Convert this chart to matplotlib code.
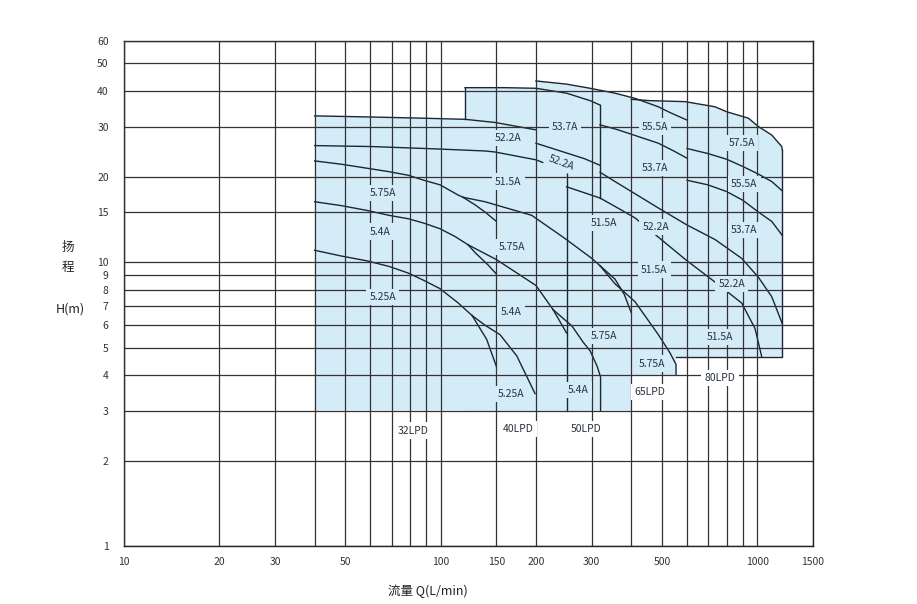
import matplotlib.pyplot as plt
from matplotlib.ticker import NullLocator, FixedLocator, FixedFormatter

plt.rcParams['font.family'] = ['Noto Sans CJK SC', 'DejaVu Sans']

FILL = '#d4ecf8'
LINE = '#1c2633'
GRID = '#333333'

# axis grid / tick values
x_grid = [10, 20, 30, 40, 50, 60, 70, 80, 90, 100, 150, 200, 300, 400, 500,
          600, 700, 800, 900, 1000, 1500]
x_labeled = [10, 20, 30, 50, 100, 150, 200, 300, 500, 1000, 1500]
y_grid = [1, 2, 3, 4, 5, 6, 7, 8, 9, 10, 15, 20, 30, 40, 50, 60]

# top boundaries of the operating ranges (Q L/min, H m)
top_40_q = [119.4, 160, 200, 250, 296.5, 318.8]
top_40_h = [41.1, 41.1, 40.9, 39.3, 37.0, 35.7]
top_50_q = [200, 250, 296.5, 355.5, 411, 487, 530, 600]
top_50_h = [43.4, 42.3, 40.9, 39.3, 37.7, 35.2, 33.6, 31.6]
top_80_q = [400, 458.6, 591.5, 735.6, 801, 937, 1008, 1111, 1195, 1200]
top_80_h = [37.4, 37.0, 36.7, 35.2, 33.8, 32.1, 30.0, 28.0, 25.5, 24.8]

# performance curves
curve_a_q = [40, 60.6, 87.2, 119.4, 148.5, 200]
curve_a_h = [32.7, 32.4, 32.1, 31.8, 31.0, 29.2]
curve_b_q = [40, 60.6, 98.3, 138.1, 148.5, 200, 250]
curve_b_h = [25.7, 25.5, 25.0, 24.6, 24.4, 22.9, 20.8]
curve_r_q = [200, 250, 285, 318.8]
curve_r_h = [26.2, 24.2, 23.1, 21.9]
curve_p_q = [318.8, 360, 411, 487, 545, 600]
curve_p_h = [30.4, 29.3, 27.9, 26.2, 24.6, 23.2]
curve_s_q = [318.8, 355.5, 487, 600, 735.6, 893, 1008, 1111, 1200]
curve_s_h = [20.7, 19.2, 15.5, 13.5, 12.0, 10.3, 8.84, 7.55, 6.06]
curve_t_q = [250, 318.8, 370, 411, 480, 600, 735.6, 893, 984, 1033]
curve_t_h = [18.4, 16.8, 15.3, 14.3, 12.4, 10.1, 8.5, 7.17, 5.83, 4.64]
c80_2_q = [600, 698, 801, 900, 1008, 1111, 1200]
c80_2_h = [25.1, 24.1, 23.0, 21.7, 20.4, 19.2, 17.8]
c80_3_q = [600, 698, 801, 900, 1008, 1111, 1200]
c80_3_h = [19.4, 18.7, 17.7, 16.5, 15.0, 13.9, 12.4]

c_q = [40, 48.5, 58.4, 68.7, 79.1, 88.6, 99.5, 113.7, 117.7]
c_h = [22.7, 22.1, 21.4, 20.8, 20.2, 19.4, 18.7, 17.2, 16.9]
c1_q = [117.7, 128.4, 138.1, 150]
c1_h = [16.9, 15.9, 15.0, 13.9]
c2_q = [117.7, 138.1, 194, 247, 300.2, 318.8]
c2_h = [16.9, 16.3, 14.6, 12.1, 10.3, 9.7]
c2a_q = [318.8, 355.5, 380, 400]
c2a_h = [9.7, 8.7, 7.7, 6.63]
c2b_q = [318.8, 355.5, 411, 487, 530, 554, 554]
c2b_h = [9.7, 8.38, 7.25, 5.55, 4.79, 4.36, 4.0]

d_q = [40, 48.5, 58.4, 68.7, 79.1, 88.6, 99.5, 111, 122.1]
d_h = [16.3, 15.8, 15.2, 14.6, 14.2, 13.7, 13.1, 12.3, 11.5]
d1_q = [122.1, 128.4, 141, 150]
d1_h = [11.5, 10.8, 9.78, 9.07]
d2_q = [122.1, 150, 200, 226.5]
d2_h = [11.5, 10.2, 8.27, 6.8]
d2a_q = [226.5, 250]
d2a_h = [6.8, 5.62]
d2b_q = [226.5, 260, 282.3, 296.5, 312, 320, 320]
d2b_h = [6.8, 5.95, 5.21, 4.87, 4.3, 3.94, 3.0]

e_q = [40, 48.5, 58.4, 68.7, 79.1, 88.6, 99.5, 113.7, 125.7]
e_h = [11.0, 10.5, 10.1, 9.65, 9.14, 8.61, 8.06, 7.17, 6.48]
e1_q = [125.7, 139.8, 150]
e1_h = [6.48, 5.34, 4.29]
e2_q = [125.7, 138.1, 154, 174, 198.7]
e2_h = [6.48, 5.99, 5.55, 4.67, 3.44]

# straight edges of the ranges
edges = [
    ([119.4, 119.4], [31.8, 41.1]),
    ([318.8, 318.8], [35.7, 16.8]),
    ([250, 250], [20.8, 3]),
    ([1200, 1200, 554], [24.8, 4.64, 4.64]),
]

# labels: text, Q, H, rotation, inside shaded area
labels = [
    ('5.75A', 65.6, 17.5, 0, True), ('5.4A', 64.4, 12.8, 0, True),
    ('5.25A', 65.6, 7.55, 0, True), ('32LPD', 81.7, 2.55, 0, False),
    ('52.2A', 163.6, 27.3, 0, True), ('51.5A', 163.6, 19.2, 0, True),
    ('5.75A', 167.7, 11.3, 0, True), ('5.4A', 166.9, 6.67, 0, True),
    ('5.25A', 166.9, 3.42, 0, True), ('40LPD', 176, 2.59, 0, False),
    ('53.7A', 247, 30.0, 0, True), ('52.2A', 240, 22.4, -20, True),
    ('51.5A', 328, 13.7, 0, True), ('5.75A', 328, 5.48, 0, True),
    ('5.4A', 272, 3.54, 0, True), ('50LPD', 288, 2.59, 0, False),
    ('55.5A', 475, 30.0, 0, True), ('53.7A', 475, 21.4, 0, True),
    ('52.2A', 478, 13.3, 0, True), ('51.5A', 473, 9.41, 0, True),
    ('5.75A', 466, 4.39, 0, True), ('65LPD', 458.6, 3.49, 0, False),
    ('57.5A', 895, 26.3, 0, True), ('55.5A', 910, 18.8, 0, True),
    ('53.7A', 910, 13.0, 0, True), ('52.2A', 831, 8.38, 0, True),
    ('51.5A', 763, 5.44, 0, True), ('80LPD', 763, 3.91, 0, False),
]

fig = plt.figure(figsize=(9.17, 6.04), dpi=100)
ax = fig.add_axes([0.1352, 0.0960, 0.7514, 0.8361])
ax.set_xscale('log')
ax.set_yscale('log')
ax.set_xlim(10, 1500)
ax.set_ylim(1, 60)

# shaded ranges
zones = [
    ([40] + curve_a_q + [200], [3] + curve_a_h + [3]),
    ([119.4] + top_40_q + [318.8], [3] + top_40_h + [3]),
    ([200] + top_50_q + [600, 554, 554, 400, 400],
     [3] + top_50_h + [4.64, 4.64, 4.0, 4.0, 3]),
    ([400] + top_80_q + [1200], [4.64] + top_80_h + [4.64]),
]
for zq, zh in zones:
    ax.fill(zq, zh, color=FILL, lw=0, zorder=0)

curves = [
    (top_40_q, top_40_h), (top_50_q, top_50_h), (top_80_q, top_80_h),
    (curve_a_q, curve_a_h), (curve_b_q, curve_b_h), (curve_r_q, curve_r_h),
    (curve_p_q, curve_p_h), (curve_s_q, curve_s_h), (curve_t_q, curve_t_h),
    (c80_2_q, c80_2_h), (c80_3_q, c80_3_h),
    (c_q, c_h), (c1_q, c1_h), (c2_q, c2_h), (c2a_q, c2a_h), (c2b_q, c2b_h),
    (d_q, d_h), (d1_q, d1_h), (d2_q, d2_h), (d2a_q, d2a_h), (d2b_q, d2b_h),
    (e_q, e_h), (e1_q, e1_h), (e2_q, e2_h),
] + edges
for cq, ch in curves:
    ax.plot(cq, ch, color=LINE, lw=1.0, zorder=2, solid_joinstyle='round')

for txt, q, h, rot, inside in labels:
    ax.text(q, h, txt, fontsize=7.5, color='#2a3340', ha='center', va='center',
            rotation=rot, rotation_mode='anchor', zorder=4,
            bbox=dict(boxstyle='square,pad=0.3', fc=FILL if inside else 'white', ec='none'))

# grid and ticks
ax.xaxis.set_major_locator(FixedLocator(x_grid))
ax.xaxis.set_major_formatter(FixedFormatter([str(v) if v in x_labeled else '' for v in x_grid]))
ax.yaxis.set_major_locator(FixedLocator(y_grid))
ax.yaxis.set_major_formatter(FixedFormatter([str(v) for v in y_grid]))
ax.xaxis.set_minor_locator(NullLocator())
ax.yaxis.set_minor_locator(NullLocator())
ax.tick_params(axis='both', length=0, labelsize=7.5, colors='#333333')
ax.tick_params(axis='x', pad=8)
ax.tick_params(axis='y', pad=11)
ax.grid(True, color=GRID, lw=0.9, zorder=1)
ax.set_axisbelow(False)
for sp in ax.spines.values():
    sp.set_color('#222222')
    sp.set_linewidth(1.0)

fig.text(428 / 917, 1 - 591 / 604, '流量 Q(L/min)', fontsize=9, ha='center', va='center', color='#222222')
fig.text(68 / 917, 1 - 248 / 604, '扬', fontsize=9, ha='center', va='center', color='#222222')
fig.text(68 / 917, 1 - 267 / 604, '程', fontsize=9, ha='center', va='center', color='#222222')
fig.text(70 / 917, 1 - 309 / 604, 'H(m)', fontsize=9, ha='center', va='center', color='#222222')

fig.savefig('out.png', dpi=100)
